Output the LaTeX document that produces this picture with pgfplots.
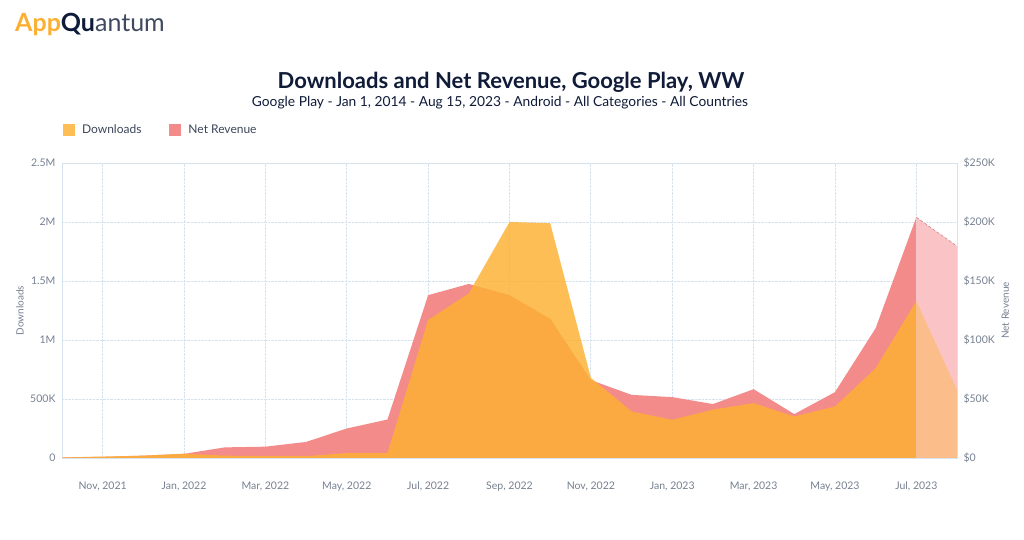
\documentclass[border=0pt]{standalone}
\usepackage{fontspec}
\setmainfont{Lato}
\usepackage{pgfplots}
\pgfplotsset{compat=1.18}
\definecolor{orangec}{RGB}{253,176,49}
\definecolor{redc}{RGB}{243,139,139}
\definecolor{pinkc}{RGB}{250,196,199}
\definecolor{lorange}{RGB}{251,190,138}
\definecolor{gridc}{RGB}{214,226,238}
\definecolor{tickc}{RGB}{118,128,145}
\definecolor{navy}{RGB}{15,27,56}
\definecolor{logoor}{RGB}{251,176,52}
\definecolor{legtext}{RGB}{60,70,90}
\pgfplotsset{common/.style={
  at={(62pt,82pt)}, anchor=south west, width=895pt, height=295pt, scale only axis,
  xmin=0, xmax=22, ymin=0, ymax=250,
  axis line style={gridc}, major tick length=0pt,
  tick label style={font=\fontsize{10.5}{12.5}\selectfont, text=tickc},
  label style={font=\fontsize{10}{12}\selectfont, text=tickc},
}}
\begin{document}
\begin{tikzpicture}
\useasboundingbox[fill=white] (0,0) rectangle (1024pt,540pt);
\node[anchor=base west, inner sep=0, font=\fontsize{25}{28}\selectfont\bfseries] at (15pt,508pt) {\textcolor{logoor}{App}\textcolor{navy}{Qu}{\mdseries\color{navy!80}antum}};
\node[font=\fontsize{22}{26}\selectfont\bfseries, text=navy] at (511pt,458pt) {Downloads and Net Revenue, Google Play, WW};
\node[font=\fontsize{13.8}{16}\selectfont, text=navy] at (500pt,437.5pt) {Google Play - Jan 1, 2014 - Aug 15, 2023 - Android - All Categories - All Countries};

\begin{axis}[common,
  grid=major, grid style={gridc, densely dotted, line width=0.8pt},
  xtick={1,3,5,7,9,11,13,15,17,19,21},
  xticklabels={{Nov, 2021},{Jan, 2022},{Mar, 2022},{May, 2022},{Jul, 2022},{Sep, 2022},{Nov, 2022},{Jan, 2023},{Mar, 2023},{May, 2023},{Jul, 2023}},
  xticklabel style={yshift=-20pt},
  ytick={0,50,100,150,200,250},
  yticklabels={\$0,\$50K,\$100K,\$150K,\$200K,\$250K},
  yticklabel pos=right,
  yticklabel style={xshift=3pt},
  ylabel={Net Revenue},
  ylabel style={at={(axis description cs:1.054,0.5)}, anchor=center},
]
\addplot[fill=redc, draw=none] coordinates {
(0,0.5)(1,1)(2,2)(3,3.5)(4,9)(5,9.6)(6,13.6)(7,25)(8,32.6)(9,138)(10,147.5)
(11,138)(12,118)(13,66)(14,53.5)(15,51.6)(16,45.7)(17,58.3)(18,37.2)(19,55.8)(20,110)(21,204)
} \closedcycle;
\addplot[fill=pinkc, draw=none] coordinates {(21,204)(22,179.5)} \closedcycle;
\addplot[draw=redc!85!black, densely dashed, line width=0.5pt] coordinates {(21,204)(22,179.5)};
\end{axis}

\begin{axis}[common, ymax=2.5,
  xtick=\empty,
  ytick={0,0.5,1,1.5,2,2.5},
  yticklabels={0,500K,1M,1.5M,2M,2.5M},
  yticklabel style={xshift=-3pt},
  ylabel={Downloads},
  ylabel style={at={(axis description cs:-0.047,0.5)}, anchor=center},
  legend style={draw=none, fill=none, at={(axis description cs:0.001,1.112)}, anchor=west,
    font=\fontsize{12}{14}\selectfont, text=legtext, inner xsep=0pt,
    /tikz/every even column/.append style={column sep=26pt}},
  legend columns=2,
  legend image code/.code={\path[#1] (0pt,-6pt) rectangle (12pt,6pt);},
]
\addplot[fill=orangec, fill opacity=0.82, draw=none] coordinates {
(0,0.005)(1,0.012)(2,0.02)(3,0.037)(4,0.02)(5,0.015)(6,0.015)(7,0.042)(8,0.042)(9,1.17)(10,1.395)
(11,2.0)(12,1.99)(13,0.68)(14,0.395)(15,0.324)(16,0.41)(17,0.465)(18,0.352)(19,0.437)(20,0.76)(21,1.33)
} \closedcycle;
\addlegendentry{\hspace{5pt}Downloads}
\addplot[fill=lorange, draw=none, forget plot] coordinates {(21,1.33)(22,0.578)} \closedcycle;
\addplot[draw={rgb,255:red,200;green,160;blue,120}, line width=0.8pt, forget plot] coordinates {(21,0)(22,0)};
\addlegendimage{fill=redc, draw=none}
\addlegendentry{\hspace{5pt}Net Revenue}
\end{axis}
\end{tikzpicture}
\end{document}
